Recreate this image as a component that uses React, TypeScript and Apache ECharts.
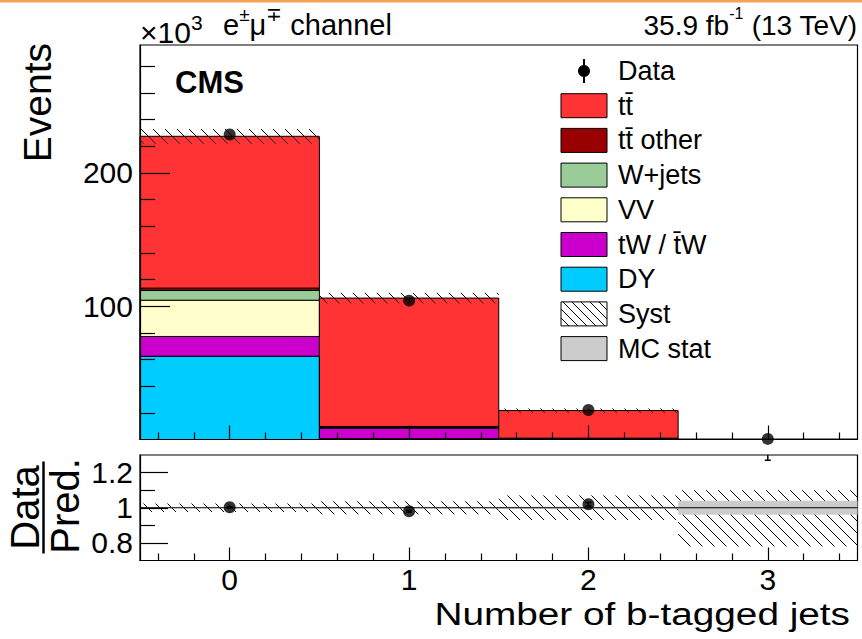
import { useEffect, useRef } from 'react';
import * as echarts from 'echarts';

// ---------- data (thousands of events) ----------
const binCenters = [0, 1, 2, 3];
const ttbarValues = [113.9, 96.3, 20.7, 0.27];
const ttOtherValues = [1.8, 0.8, 0.3, 0.01];
const wJetsValues = [7.3, 0.2, 0.02, 0];
const vvValues = [27.2, 0.3, 0.05, 0];
const tWValues = [14.8, 7.9, 0.6, 0.02];
const dyValues = [62.5, 0.6, 0.05, 0];
const dataValues = [228.8, 104.2, 22.1, 0.43];
const ratioValues = [1.003, 0.98, 1.02, 1.45];
const ratioErrors = [0.003, 0.005, 0.01, 0.18];
const systUpRel = [0.024, 0.037, 0.07, 0.1];
const systDownRel = [0.024, 0.037, 0.07, 0.22];
const mcStatRel = [0.002, 0.003, 0.006, 0.04];

// ---------- ticks ----------
const xMajorTicks = [0, 1, 2, 3];
const xMinorTicks = [-0.4, -0.2, 0.2, 0.4, 0.6, 0.8, 1.2, 1.4, 1.6, 1.8, 2.2, 2.4, 2.6, 2.8, 3.2, 3.4];
const yMajorTicks = [100, 200];
const yMinorTicks = [20, 40, 60, 80, 120, 140, 160, 180, 220, 240, 260, 280];
const ratioMajorTicks = [0.8, 1, 1.2];
const ratioMinorTicks = [0.9, 1.1];

const X_MIN = -0.5;
const X_MAX = 3.5;
const Y_MAX = 296;
const R_MIN = 0.7;
const R_MAX = 1.3;

const FONT = '"Liberation Sans", Arial, Helvetica, sans-serif';

const processes = [
  { name: 'DY', values: dyValues, color: '#00CCFF' },
  { name: 'tW / t\u0304W', values: tWValues, color: '#CC00CC' },
  { name: 'VV', values: vvValues, color: '#FFFFCC' },
  { name: 'W+jets', values: wJetsValues, color: '#99CC99' },
  { name: 'tt\u0304 other', values: ttOtherValues, color: '#990000' },
  { name: 'tt\u0304', values: ttbarValues, color: '#FF3333' },
];

function hatchLines(x0: number, y0: number, x1: number, y1: number, s: number) {
  const lines: any[] = [];
  const cStart = Math.ceil((y0 - x1) / s) * s;
  for (let c = cStart; c <= y1 - x0; c += s) {
    const xa = Math.max(x0, y0 - c);
    const xb = Math.min(x1, y1 - c);
    if (xb > xa + 0.5) {
      lines.push({
        type: 'line',
        shape: { x1: xa, y1: xa + c, x2: xb, y2: xb + c },
        style: { stroke: '#000', lineWidth: 1 },
      });
    }
  }
  return lines;
}

function rectRender(fill: string, stroke: string | null) {
  return (_params: any, api: any) => {
    const x = api.value(0);
    const lo = api.value(1);
    const hi = api.value(2);
    if (!(hi - lo > 0)) return null;
    const p1 = api.coord([x - 0.5, hi]);
    const p2 = api.coord([x + 0.5, lo]);
    return {
      type: 'rect',
      shape: { x: p1[0], y: p1[1], width: p2[0] - p1[0], height: p2[1] - p1[1] },
      style: stroke ? { fill, stroke, lineWidth: 1 } : { fill },
    };
  };
}

function hatchRender(_params: any, api: any) {
  const x = api.value(0);
  const lo = api.value(1);
  const hi = api.value(2);
  const p1 = api.coord([x - 0.5, hi]);
  const p2 = api.coord([x + 0.5, lo]);
  return { type: 'group', children: hatchLines(p1[0], p1[1], p2[0], p2[1], 12) };
}

function errRender(_params: any, api: any) {
  const x = api.value(0);
  const v = api.value(1);
  const e = api.value(2);
  const lo = Math.max(v - e, R_MIN);
  const hi = Math.min(v + e, R_MAX);
  if (lo >= hi) return null;
  const pHi = api.coord([x, hi]);
  const pLo = api.coord([x, lo]);
  const children: any[] = [
    { type: 'line', shape: { x1: pHi[0], y1: pHi[1], x2: pLo[0], y2: pLo[1] }, style: { stroke: '#000', lineWidth: 1.5 } },
  ];
  if (v - e >= R_MIN) {
    children.push({ type: 'line', shape: { x1: pLo[0] - 3, y1: pLo[1], x2: pLo[0] + 3, y2: pLo[1] }, style: { stroke: '#000', lineWidth: 1.5 } });
  }
  if (v + e <= R_MAX) {
    children.push({ type: 'line', shape: { x1: pHi[0] - 3, y1: pHi[1], x2: pHi[0] + 3, y2: pHi[1] }, style: { stroke: '#000', lineWidth: 1.5 } });
  }
  return { type: 'group', children };
}

function buildOption() {
  const totals = binCenters.map((_, i) => processes.reduce((s, p) => s + p.values[i], 0));

  let base = binCenters.map(() => 0);
  const stackSeries = processes.map((p) => {
    const data = binCenters.map((x, i) => [x, base[i], base[i] + p.values[i]]);
    base = base.map((b, i) => b + p.values[i]);
    return {
      type: 'custom',
      name: p.name,
      xAxisIndex: 0,
      yAxisIndex: 0,
      data,
      renderItem: rectRender(p.color, '#000'),
      silent: true,
    };
  });

  const tickStyle = { color: '#000', width: 1.2 };
  const baseAxis = (gridIndex: number, min: number, max: number, position: string) => ({
    type: 'value',
    gridIndex,
    min,
    max,
    position,
    z: 10,
    splitLine: { show: false },
    axisLine: { show: false, onZero: false },
    axisTick: { show: false },
    axisLabel: { show: false },
  });

  const xAxis = [
    {
      ...baseAxis(0, X_MIN, X_MAX, 'bottom'),
      axisLine: { show: true, onZero: false, lineStyle: tickStyle },
      axisTick: { show: true, inside: true, length: 14, customValues: xMajorTicks, lineStyle: tickStyle },
    },
    {
      ...baseAxis(0, X_MIN, X_MAX, 'bottom'),
      axisTick: { show: true, inside: true, length: 7, customValues: xMinorTicks, lineStyle: tickStyle },
    },
    {
      ...baseAxis(1, X_MIN, X_MAX, 'bottom'),
      axisLine: { show: true, onZero: false, lineStyle: tickStyle },
      axisTick: { show: true, inside: true, length: 13, customValues: xMajorTicks, lineStyle: tickStyle },
      axisLabel: { show: true, customValues: xMajorTicks, fontSize: 30, color: '#000', margin: 4, fontFamily: FONT },
    },
    {
      ...baseAxis(1, X_MIN, X_MAX, 'bottom'),
      axisTick: { show: true, inside: true, length: 7, customValues: xMinorTicks, lineStyle: tickStyle },
    },
  ];

  const yAxis = [
    {
      ...baseAxis(0, 0, Y_MAX, 'left'),
      axisLine: { show: true, onZero: false, lineStyle: tickStyle },
      axisTick: { show: true, inside: true, length: 30, customValues: yMajorTicks, lineStyle: tickStyle },
      axisLabel: { show: true, customValues: yMajorTicks, fontSize: 30, color: '#000', margin: 7, fontFamily: FONT },
    },
    {
      ...baseAxis(0, 0, Y_MAX, 'left'),
      axisTick: { show: true, inside: true, length: 15, customValues: yMinorTicks, lineStyle: tickStyle },
    },
    {
      ...baseAxis(1, R_MIN, R_MAX, 'left'),
      axisLine: { show: true, onZero: false, lineStyle: tickStyle },
      axisTick: { show: true, inside: true, length: 28, customValues: ratioMajorTicks, lineStyle: tickStyle },
      axisLabel: {
        show: true,
        customValues: ratioMajorTicks,
        fontSize: 30,
        color: '#000',
        margin: 7,
        fontFamily: FONT,
        formatter: (v: number) => String(Math.round(v * 10) / 10),
      },
    },
    {
      ...baseAxis(1, R_MIN, R_MAX, 'left'),
      axisTick: { show: true, inside: true, length: 15, customValues: ratioMinorTicks, lineStyle: tickStyle },
    },
  ];

  const series: any[] = [
    ...stackSeries,
    {
      type: 'custom',
      name: 'Syst',
      xAxisIndex: 0,
      yAxisIndex: 0,
      data: binCenters.map((x, i) => [x, totals[i] * (1 - systDownRel[i]), totals[i] * (1 + systUpRel[i])]),
      renderItem: hatchRender,
      silent: true,
    },
    {
      type: 'scatter',
      name: 'Data',
      xAxisIndex: 0,
      yAxisIndex: 0,
      data: binCenters.map((x, i) => [x, dataValues[i]]),
      symbol: 'circle',
      symbolSize: 12,
      itemStyle: { color: '#000' },
      clip: false,
      z: 12,
      silent: true,
    },
    {
      type: 'custom',
      name: 'Syst ratio',
      xAxisIndex: 2,
      yAxisIndex: 2,
      data: binCenters.map((x, i) => [x, 1 - systDownRel[i], 1 + systUpRel[i]]),
      renderItem: hatchRender,
      silent: true,
    },
    {
      type: 'custom',
      name: 'MC stat',
      xAxisIndex: 2,
      yAxisIndex: 2,
      data: binCenters.map((x, i) => [x, 1 - mcStatRel[i], 1 + mcStatRel[i]]),
      renderItem: rectRender('#CCCCCC', null),
      silent: true,
    },
    {
      type: 'line',
      name: 'unity',
      xAxisIndex: 2,
      yAxisIndex: 2,
      data: [[X_MIN, 1], [X_MAX, 1]],
      symbol: 'none',
      lineStyle: { color: '#000', width: 1.2 },
      silent: true,
    },
    {
      type: 'custom',
      name: 'Ratio err',
      xAxisIndex: 2,
      yAxisIndex: 2,
      data: binCenters.map((x, i) => [x, ratioValues[i], ratioErrors[i]]),
      renderItem: errRender,
      z: 12,
      silent: true,
    },
    {
      type: 'scatter',
      name: 'Ratio',
      xAxisIndex: 2,
      yAxisIndex: 2,
      data: binCenters.map((x, i) => [x, ratioValues[i]]),
      symbol: 'circle',
      symbolSize: 12,
      itemStyle: { color: '#000' },
      clip: true,
      z: 12,
      silent: true,
    },
  ];

  // ---------- legend & texts (graphic) ----------
  const rowY0 = 71;
  const rowStep = 34.7;
  const boxX = 561;
  const boxW = 46;
  const boxH = 24;
  const textX = 618;
  const legendEls: any[] = [];
  const txt = (text: string, x: number, y: number, extra: any = {}) => ({
    type: 'text',
    x,
    y,
    style: { text, fontSize: 27, fill: '#000', fontFamily: FONT, align: 'left', verticalAlign: 'middle', ...extra },
  });
  // Data
  legendEls.push({ type: 'line', shape: { x1: boxX + boxW / 2, y1: rowY0 - 12, x2: boxX + boxW / 2, y2: rowY0 + 12 }, style: { stroke: '#000', lineWidth: 2 } });
  legendEls.push({ type: 'circle', shape: { cx: boxX + boxW / 2, cy: rowY0, r: 6 }, style: { fill: '#000' } });
  legendEls.push(txt('Data', textX, rowY0));
  const legendProcs = [...processes].reverse();
  legendProcs.forEach((p, k) => {
    const cy = rowY0 + rowStep * (k + 1);
    legendEls.push({ type: 'rect', shape: { x: boxX, y: cy - boxH / 2, width: boxW, height: boxH }, style: { fill: p.color, stroke: '#000', lineWidth: 1 } });
    legendEls.push(txt(p.name, textX, cy));
  });
  const systY = rowY0 + rowStep * 7;
  legendEls.push({ type: 'rect', shape: { x: boxX, y: systY - boxH / 2, width: boxW, height: boxH }, style: { fill: '#fff', stroke: '#000', lineWidth: 1 } });
  legendEls.push(...hatchLines(boxX, systY - boxH / 2, boxX + boxW, systY + boxH / 2, 9));
  legendEls.push(txt('Syst', textX, systY));
  const mcY = rowY0 + rowStep * 8;
  legendEls.push({ type: 'rect', shape: { x: boxX, y: mcY - boxH / 2, width: boxW, height: boxH }, style: { fill: '#CCCCCC', stroke: '#000', lineWidth: 1 } });
  legendEls.push(txt('MC stat', textX, mcY));

  const graphic: any[] = [
    { type: 'rect', shape: { x: 0, y: 0, width: 862, height: 2.5 }, style: { fill: '#F5A05A' }, z: 100 },
    {
      type: 'text', x: 140, y: 32,
      style: {
        text: '\u00D710{s|3}', fontSize: 30, lineHeight: 40, fill: '#000', fontFamily: FONT, align: 'left', verticalAlign: 'middle',
        rich: { s: { fontSize: 21, lineHeight: 15, verticalAlign: 'top', fontFamily: FONT, fill: '#000' } },
      },
    },
    {
      type: 'text', x: 223, y: 25,
      style: {
        text: 'e{s|\u00B1}\u03BC{s|\u2213} channel', fontSize: 29, lineHeight: 40, fill: '#000', fontFamily: FONT, align: 'left', verticalAlign: 'middle',
        rich: { s: { fontSize: 19, lineHeight: 30, verticalAlign: 'top', fontFamily: FONT, fill: '#000' } },
      },
    },
    {
      type: 'text', x: 857, y: 25,
      style: {
        text: '35.9 fb{s|-1} (13 TeV)', fontSize: 28, lineHeight: 40, fill: '#000', fontFamily: FONT, align: 'right', verticalAlign: 'middle',
        rich: { s: { fontSize: 16, lineHeight: 26, verticalAlign: 'top', fontFamily: FONT, fill: '#000' } },
      },
    },
    { type: 'text', x: 175, y: 82.5, style: { text: 'CMS', fontSize: 31, fontWeight: 'bold', fill: '#000', fontFamily: FONT, align: 'left', verticalAlign: 'middle' } },
    { type: 'text', x: 37, y: 43, rotation: Math.PI / 2, style: { text: 'Events', fontSize: 39, fill: '#000', fontFamily: FONT, align: 'right', verticalAlign: 'middle' } },
    { type: 'text', x: 25, y: 507.5, rotation: Math.PI / 2, style: { text: 'Data', fontSize: 40, fill: '#000', fontFamily: FONT, align: 'center', verticalAlign: 'middle' } },
    { type: 'line', shape: { x1: 43.5, y1: 461.5, x2: 43.5, y2: 553.5 }, style: { stroke: '#000', lineWidth: 2.5 } },
    { type: 'text', x: 65, y: 506, rotation: Math.PI / 2, style: { text: 'Pred.', fontSize: 40, fill: '#000', fontFamily: FONT, align: 'center', verticalAlign: 'middle' } },
    { type: 'text', x: 850, y: 614, scaleX: 1.25, style: { text: 'Number of b-tagged jets', fontSize: 31, fill: '#000', fontFamily: FONT, align: 'right', verticalAlign: 'middle' } },
    ...legendEls,
  ];

  return {
    animation: false,
    backgroundColor: '#fff',
    textStyle: { fontFamily: FONT },
    grid: [
      { left: 140, top: 45, width: 717.5, height: 394.5, show: true, borderColor: '#000', borderWidth: 1.2, backgroundColor: 'transparent', containLabel: false },
      { left: 140, top: 455, width: 717.5, height: 105.5, show: true, borderColor: '#000', borderWidth: 1.2, backgroundColor: 'transparent', containLabel: false },
    ],
    xAxis,
    yAxis,
    series,
    graphic,
  };
}

export default function App() {
  const ref = useRef<HTMLDivElement>(null);
  useEffect(() => {
    if (!ref.current) return;
    const chart = echarts.init(ref.current, null, { renderer: 'svg' });
    chart.setOption(buildOption() as any);
    return () => chart.dispose();
  }, []);
  return (
    <div
      ref={ref}
      style={{ position: 'absolute', left: 0, top: 0, width: 862, height: 639, background: '#fff' }}
    />
  );
}
